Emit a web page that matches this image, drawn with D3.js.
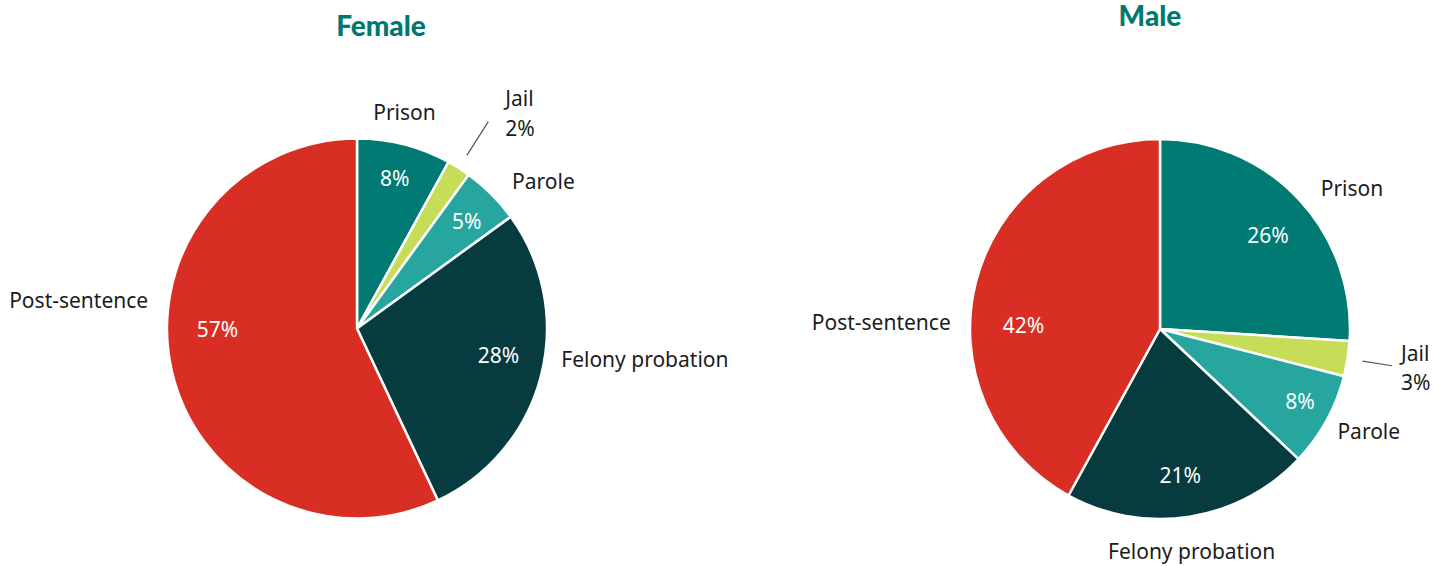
<!DOCTYPE html>
<html>
<head>
<meta charset="utf-8">
<script src="https://cdn.jsdelivr.net/npm/d3@7"></script>
<style>
  html, body { margin: 0; padding: 0; background: #fff; }
  svg { display: block; }
  .title { font-family: Lato, "Noto Sans", sans-serif; font-weight: 900; fill: #00786f; }
  .lbl { font-family: "Noto Sans", sans-serif; fill: #1c1c1c; }
  .pct { font-family: "Noto Sans", sans-serif; fill: #ffffff; }
</style>
</head>
<body>
<svg id="chart" width="1452" height="566"></svg>
<script>
// Supervision status shares, in percent
const categories = ["Prison", "Jail", "Parole", "Felony probation", "Post-sentence"];
const femaleValues = [8, 2, 5, 28, 57];
const maleValues = [26, 3, 8, 21, 42];
const panelTitles = ["Female", "Male"];

const colors = d3.scaleOrdinal()
  .domain(categories)
  .range(["#007a72", "#c6de57", "#26a69e", "#063b3f", "#d92e24"]);

const svg = d3.select("#chart");
const radius = 190;
const fontSize = 21;

// Layout per panel: centre, title spot, and pixel nudges for labels
const panels = [
  { title: panelTitles[0], values: femaleValues, cx: 357, cy: 328.5, tx: 381, ty: 36,
    leader: 55, leaderText: [17, -24, 6],
    nudge: { "Prison": [-6, -8], "Parole": [3, 5], "Felony probation": [-4, -23], "Post-sentence": [1, -75] },
    pctNudge: { "Prison": [1, -7], "Parole": [5, -3], "Felony probation": [-2, -10], "Post-sentence": [5, -32] } },
  { title: panelTitles[1], values: maleValues, cx: 1160, cy: 329, tx: 1150, ty: 26,
    leader: 45, leaderText: [9, -13, 16],
    nudge: { "Prison": [4, 6], "Parole": [-11, -2], "Felony probation": [-2, 10], "Post-sentence": [-1, 46] },
    pctNudge: { "Prison": [0, 7], "Parole": [10, 1], "Felony probation": [-3, 0], "Post-sentence": [7, 33] } }
];

const pie = d3.pie().sort(null).value(d => d.value);
const arc = d3.arc().innerRadius(0).outerRadius(radius);
const pctArc = d3.arc().innerRadius(radius * 0.78).outerRadius(radius * 0.78);

panels.forEach(p => {
  const rows = categories.map((c, i) => ({ category: c, value: p.values[i] }));
  const arcs = pie(rows);

  svg.append("text")
    .attr("class", "title")
    .attr("x", p.tx).attr("y", p.ty)
    .attr("text-anchor", "middle")
    .attr("font-size", 28)
    .text(p.title);

  const g = svg.append("g").attr("transform", `translate(${p.cx},${p.cy})`);

  g.selectAll("path.slice")
    .data(arcs)
    .join("path")
    .attr("class", "slice")
    .attr("d", arc)
    .attr("fill", d => colors(d.data.category))
    .attr("stroke", "#fff")
    .attr("stroke-width", 2.5)
    .attr("stroke-linejoin", "round");

  arcs.forEach(d => {
    const mid = (d.startAngle + d.endAngle) / 2;
    const s = Math.sin(mid), c = -Math.cos(mid);
    const small = d.data.value < 4;

    if (!small) {
      const [px, py] = pctArc.centroid(d);
      const [qx, qy] = p.pctNudge[d.data.category];
      g.append("text")
        .attr("class", "pct")
        .attr("x", px + qx).attr("y", py + qy)
        .attr("text-anchor", "middle")
        .attr("dominant-baseline", "central")
        .attr("font-size", fontSize)
        .text(d.data.value + "%");

      const [nx, ny] = p.nudge[d.data.category];
      const R = radius + 25;
      const anchor = Math.abs(s) < 0.3 ? "middle" : (s > 0 ? "start" : "end");
      g.append("text")
        .attr("class", "lbl")
        .attr("x", R * s + nx).attr("y", R * c + ny)
        .attr("text-anchor", anchor)
        .attr("dominant-baseline", "central")
        .attr("font-size", fontSize)
        .text(d.data.category);
    } else {
      // thin slice: leader line out to a two-line label
      const r1 = radius + 15, r2 = radius + p.leader;
      g.append("line")
        .attr("x1", r1 * s).attr("y1", r1 * c)
        .attr("x2", r2 * s).attr("y2", r2 * c)
        .attr("stroke", "#555")
        .attr("stroke-width", 1.2);
      const [ox, oy1, oy2] = p.leaderText;
      const lx = r2 * s + ox, ly = r2 * c;
      const t = g.append("text")
        .attr("class", "lbl")
        .attr("font-size", fontSize)
        .attr("text-anchor", "start");
      t.append("tspan")
        .attr("x", lx).attr("y", ly + oy1)
        .attr("dominant-baseline", "central")
        .text(d.data.category);
      t.append("tspan")
        .attr("x", lx).attr("y", ly + oy2)
        .attr("dominant-baseline", "central")
        .text(d.data.value + "%");
    }
  });
});
</script>
</body>
</html>
